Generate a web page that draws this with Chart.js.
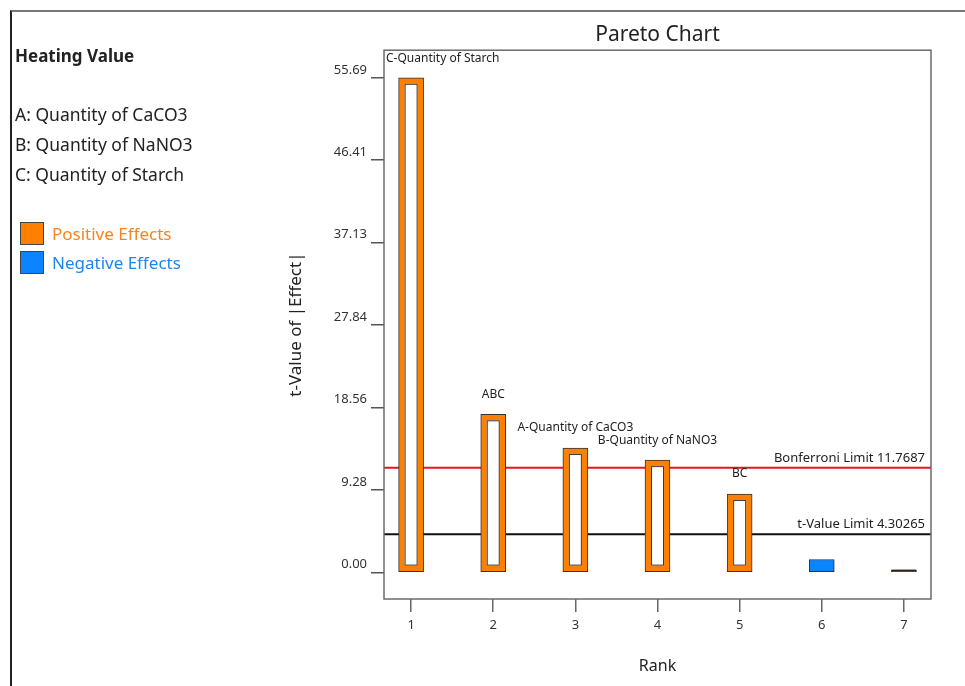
<!DOCTYPE html>
<html>
<head>
<meta charset="utf-8">
<script src="https://cdn.jsdelivr.net/npm/chart.js@4.4.0/dist/chart.umd.min.js"></script>
<style>
body{margin:0;background:#fff;font-family:"Noto Sans",sans-serif;}
#wrap{position:relative;width:965px;height:686px;overflow:hidden;background:#fff;}
#frame{position:absolute;left:10px;top:10px;width:970px;height:690px;border-left:2px solid #222;border-top:2px solid #777;}
#pareto{position:absolute;left:0;top:0;}
.txt{position:absolute;left:15px;color:#222;white-space:nowrap;}
.head{font-weight:bold;font-size:17px;top:44px;}
.fac{font-size:17.5px;line-height:30px;top:99px;}
.box{position:absolute;left:20px;width:22px;height:21px;border:1.5px solid #444;}
.lg{position:absolute;left:52px;font-size:17px;white-space:nowrap;}
</style>
</head>
<body>
<div id="wrap">
  <div id="frame"></div>
  <canvas id="pareto" width="965" height="686"></canvas>
  <div class="txt head">Heating Value</div>
  <div class="txt fac" id="factors"></div>
  <div class="box" style="top:222px;background:#FF8000"></div>
  <div class="lg" style="top:222px;color:#F7841E">Positive Effects</div>
  <div class="box" style="top:251px;background:#0A84FF"></div>
  <div class="lg" style="top:251px;color:#1A86F0">Negative Effects</div>
</div>
<script>
// data
const factorNames = ['A: Quantity of CaCO3', 'B: Quantity of NaNO3', 'C: Quantity of Starch'];
const ranks = [1, 2, 3, 4, 5, 6, 7];
const tValues = [55.69, 17.8, 14.0, 12.64, 8.82, 1.45, 0.2];
const effectSigns = ['+', '+', '+', '+', '+', '-', '+'];
const barLabels = ['C-Quantity of Starch', 'ABC', 'A-Quantity of CaCO3', 'B-Quantity of NaNO3', 'BC', '', ''];
const yTicks = [0, 9.28, 18.56, 27.84, 37.13, 46.41, 55.69];
const limitNames = ['Bonferroni Limit', 't-Value Limit'];
const limitValues = [11.7687, 4.30265];

document.getElementById('factors').innerHTML = factorNames.join('<br>');

const FONT = 'Noto Sans';
const limitColors = ['#E8141B', '#111'];

const paretoDecor = {
  id: 'paretoDecor',
  beforeDatasetsDraw(chart) {
    const {ctx, chartArea: a, scales: {y}} = chart;
    ctx.save();
    limitValues.forEach((v, i) => {
      const py = y.getPixelForValue(v);
      ctx.strokeStyle = limitColors[i];
      ctx.lineWidth = 2;
      ctx.beginPath();
      ctx.moveTo(a.left, py);
      ctx.lineTo(a.right, py);
      ctx.stroke();
      ctx.fillStyle = '#222';
      ctx.font = '13px "' + FONT + '"';
      ctx.textAlign = 'right';
      ctx.textBaseline = 'middle';
      ctx.fillText(limitNames[i] + ' ' + v, a.right - 6, py - 10);
    });
    ctx.restore();
  },
  afterDatasetsDraw(chart) {
    const {ctx, chartArea: a} = chart;
    const meta = chart.getDatasetMeta(0);
    ctx.save();
    meta.data.forEach((bar, i) => {
      const p = bar.getProps(['x', 'y', 'base', 'width'], true);
      const inset = 6;
      const hgt = p.base - p.y;
      if (effectSigns[i] === '+' && hgt > 3 * inset) {
        const l = p.x - p.width / 2 + inset, t = p.y + inset;
        const w = p.width - 2 * inset, h = hgt - 2 * inset;
        ctx.fillStyle = '#fff';
        ctx.fillRect(l, t, w, h);
        ctx.strokeStyle = '#3a3a3a';
        ctx.lineWidth = 1;
        ctx.strokeRect(l + 0.5, t + 0.5, w - 1, h - 1);
      } else if (hgt < 3) {
        // a bar this short collapses to its outline
        ctx.fillStyle = '#222';
        ctx.fillRect(p.x - p.width / 2, p.base - 2, p.width, 2);
      }
      if (barLabels[i]) {
        ctx.font = '12px "' + FONT + '"';
        ctx.fillStyle = '#222';
        ctx.textAlign = 'center';
        ctx.textBaseline = 'middle';
        const tw = ctx.measureText(barLabels[i]).width;
        let lx = p.x, ly = p.y - 20;
        if (lx - tw / 2 < a.left + 2) lx = a.left + 2 + tw / 2;
        if (ly < a.top + 8) ly = a.top + 8;
        ctx.fillText(barLabels[i], lx, ly);
      }
    });
    ctx.strokeStyle = '#6b6b6b';
    ctx.lineWidth = 1.5;
    ctx.strokeRect(a.left, a.top, a.right - a.left, a.bottom - a.top);
    ctx.restore();
  }
};

new Chart(document.getElementById('pareto'), {
  type: 'bar',
  data: {
    datasets: [{
      data: ranks.map((r, i) => ({x: r, y: tValues[i]})),
      backgroundColor: effectSigns.map(s => s === '+' ? '#FF8000' : '#0A84FF'),
      borderColor: '#333',
      borderWidth: 1,
      borderSkipped: false,
      barThickness: 25
    }]
  },
  options: {
    responsive: false,
    animation: false,
    layout: {padding: {left: 286, right: 34, top: 10, bottom: 8}},
    plugins: {
      legend: {display: false},
      tooltip: {enabled: false},
      title: {
        display: true,
        text: 'Pareto Chart',
        fullSize: false,
        color: '#222',
        font: {family: FONT, size: 21, weight: 'normal'},
        padding: {top: 12, bottom: 3}
      }
    },
    scales: {
      x: {
        type: 'linear',
        min: 0.67,
        max: 7.33,
        offset: false,
        afterBuildTicks: s => { s.ticks = ranks.map(v => ({value: v})); },
        afterFit: s => { s.height = 79; },
        grid: {offset: false, drawOnChartArea: false, drawTicks: true, tickLength: 13, color: '#666', lineWidth: 1.5},
        border: {display: false},
        ticks: {color: '#333', font: {family: FONT, size: 13}, padding: 5},
        title: {display: true, text: 'Rank', color: '#222', font: {family: FONT, size: 16}, padding: {top: 0, bottom: 2}}
      },
      y: {
        min: -3.0,
        max: 58.8,
        afterBuildTicks: s => { s.ticks = yTicks.map(v => ({value: v})); },
        afterFit: s => { s.width = 98; },
        grid: {drawOnChartArea: false, drawTicks: true, tickLength: 13, color: '#555', lineWidth: 1.5},
        border: {display: false},
        ticks: {color: '#333', font: {family: FONT, size: 13}, padding: 4, labelOffset: -8,
          callback: v => v.toFixed(2)},
        title: {display: true, text: 't-Value of |Effect|', color: '#222', font: {family: FONT, size: 17}, padding: {top: 0, bottom: 0}}
      }
    }
  },
  plugins: [paretoDecor]
});
</script>
</body>
</html>
